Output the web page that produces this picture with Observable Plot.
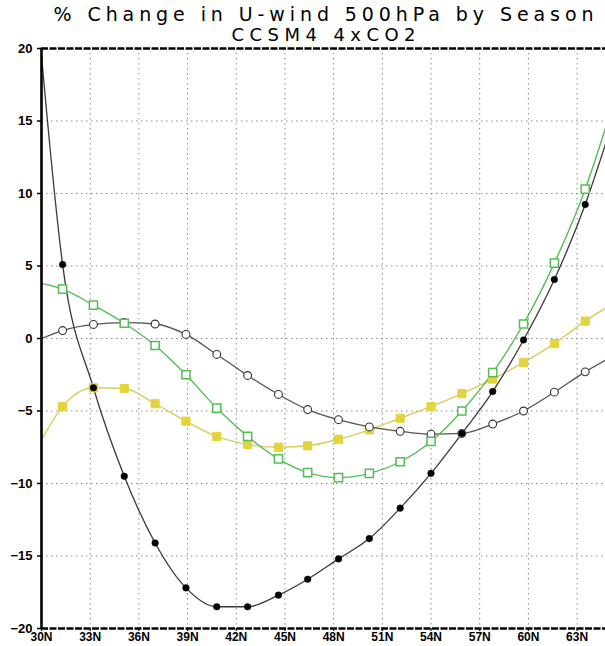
<!DOCTYPE html>
<html>
<head>
<meta charset="utf-8">
<script src="https://cdn.jsdelivr.net/npm/d3@7"></script>
<script src="https://cdn.jsdelivr.net/npm/@observablehq/plot@0.6"></script>
<style>
  html, body { margin: 0; padding: 0; background: #fff; }
  #chart svg { display: block; }
</style>
</head>
<body>
<div id="chart"></div>
<script>
// ---- data ----
const titleLine1 = "% Change in U-wind 500hPa by Season";
const titleLine2 = "CCSM4 4xCO2";

const xTicks = [30, 33, 36, 39, 42, 45, 48, 51, 54, 57, 60, 63];
const yTicks = [-20, -15, -10, -5, 0, 5, 10, 15, 20];
const xDomain = [30, 64.75];
const yDomain = [-20, 20];

// latitudes of the plotted points (first and last are the frame edges)
const lats = [30, 31.3, 33.2, 35.1, 37.0, 38.9, 40.8, 42.7, 44.6, 46.4, 48.3, 50.2, 52.1, 54.0, 55.9, 57.8, 59.7, 61.6, 63.5, 64.75];

// black line, filled circles
const seriesFilledCircle = [19.5, 5.1, -3.4, -9.5, -14.1, -17.2, -18.5, -18.5, -17.7, -16.6, -15.2, -13.8, -11.7, -9.3, -6.55, -3.66, -0.1, 4.07, 9.24, 13.4];
// grey line, open circles
const seriesOpenCircle = [0.0, 0.55, 0.97, 1.1, 1.0, 0.28, -1.1, -2.55, -3.86, -4.9, -5.6, -6.1, -6.4, -6.6, -6.55, -5.9, -5.0, -3.7, -2.3, -1.5];
// green line, open squares
const seriesOpenSquare = [3.8, 3.4, 2.3, 1.05, -0.48, -2.5, -4.8, -6.75, -8.3, -9.25, -9.6, -9.3, -8.5, -7.1, -5.0, -2.35, 1.0, 5.2, 10.3, 14.5];
// yellow line, filled squares
const seriesFilledSquare = [-7.0, -4.7, -3.4, -3.45, -4.5, -5.7, -6.75, -7.3, -7.5, -7.4, -6.95, -6.3, -5.5, -4.7, -3.8, -2.8, -1.65, -0.35, 1.2, 2.1];

// ---- build table ----
const rows = lats.map((lat, i) => ({
  lat,
  black: seriesFilledCircle[i],
  open: seriesOpenCircle[i],
  green: seriesOpenSquare[i],
  yellow: seriesFilledSquare[i]
}));
const inner = rows.filter(d => d.lat > xDomain[0] && d.lat < xDomain[1]);

const GREEN = "#55bd55";
const YELLOW_LINE = "#d9cc5c";
const YELLOW_FILL = "#e2d43c";
const gridStyle = {stroke: "#8a8a8a", strokeOpacity: 1, strokeWidth: 1, strokeDasharray: "1.5,3.5"};
const curve = "monotone-x";

const chart = Plot.plot({
  width: 605,
  height: 646,
  marginTop: 48,
  marginBottom: 18,
  marginLeft: 41,
  marginRight: 0,
  style: {fontFamily: "'Liberation Sans', Arial, sans-serif", fontSize: "12px", fontWeight: "bold", color: "#000", background: "#fff"},
  x: {domain: xDomain, ticks: xTicks, label: null},
  y: {domain: yDomain, ticks: yTicks, label: null},
  marks: [
    Plot.gridX(xTicks.filter(t => t > xDomain[0]), gridStyle),
    Plot.gridY(yTicks.filter(t => t > yDomain[0] && t < yDomain[1]), gridStyle),

    Plot.line(rows, {x: "lat", y: "yellow", stroke: YELLOW_LINE, strokeWidth: 1.4, curve, clip: true}),
    Plot.line(rows, {x: "lat", y: "open", stroke: "#555", strokeWidth: 1.3, curve, clip: true}),
    Plot.line(rows, {x: "lat", y: "green", stroke: GREEN, strokeWidth: 1.4, curve, clip: true}),
    Plot.line(rows, {x: "lat", y: "black", stroke: "#3a3a3a", strokeWidth: 1.3, curve, clip: true}),

    Plot.dot(inner, {x: "lat", y: "yellow", symbol: "square", r: 4.6, fill: YELLOW_FILL, stroke: YELLOW_FILL, strokeWidth: 1}),
    Plot.dot(inner, {x: "lat", y: "open", symbol: "circle", r: 3.9, fill: "#fff", stroke: "#333", strokeWidth: 1.1}),
    Plot.dot(inner, {x: "lat", y: "green", symbol: "square", r: 4.6, fill: "#fff", stroke: GREEN, strokeWidth: 1.5}),
    Plot.dot(inner, {x: "lat", y: "black", symbol: "circle", r: 3.3, fill: "#000", stroke: "#000", strokeWidth: 0.5}),

    // frame
    Plot.ruleY([yDomain[1]], {stroke: "#000", strokeWidth: 2.6, strokeDasharray: "7,1.5"}),
    Plot.ruleY([yDomain[0]], {stroke: "#000", strokeWidth: 2.6, strokeDasharray: "7,1.5"}),
    Plot.ruleX([xDomain[0]], {stroke: "#000", strokeWidth: 2.6}),

    Plot.axisY({ticks: yTicks, tickSize: 4, tickPadding: 5, tickFormat: d => d < 0 ? "\u2212" + Math.abs(d) : String(d), fontSize: 13, fontWeight: "bold", stroke: "#000", strokeWidth: 1.5}),
    Plot.axisX({ticks: xTicks, tickSize: 3, tickPadding: 1, tickFormat: d => d + "N", fontSize: 12, fontWeight: "bold", stroke: "#000", strokeWidth: 1.2}),

    // titles
    Plot.text([titleLine1], {frameAnchor: "top", lineAnchor: "middle", dy: -34, text: d => d, fontSize: 19, fontWeight: "normal", fontFamily: "'DejaVu Sans', sans-serif", fill: "#000"}),
    Plot.text([titleLine2], {frameAnchor: "top", lineAnchor: "middle", dy: -13, text: d => d, fontSize: 18, fontWeight: "normal", fontFamily: "'DejaVu Sans', sans-serif", fill: "#000"})
  ]
});

// stretch the titles to the reference's wide letter spacing
chart.querySelectorAll("text").forEach(t => {
  if (t.textContent === titleLine1) { t.setAttribute("textLength", "540"); t.setAttribute("lengthAdjust", "spacing"); }
  if (t.textContent === titleLine2) { t.setAttribute("textLength", "184"); t.setAttribute("lengthAdjust", "spacing"); }
});

document.getElementById("chart").appendChild(chart);
</script>
</body>
</html>
